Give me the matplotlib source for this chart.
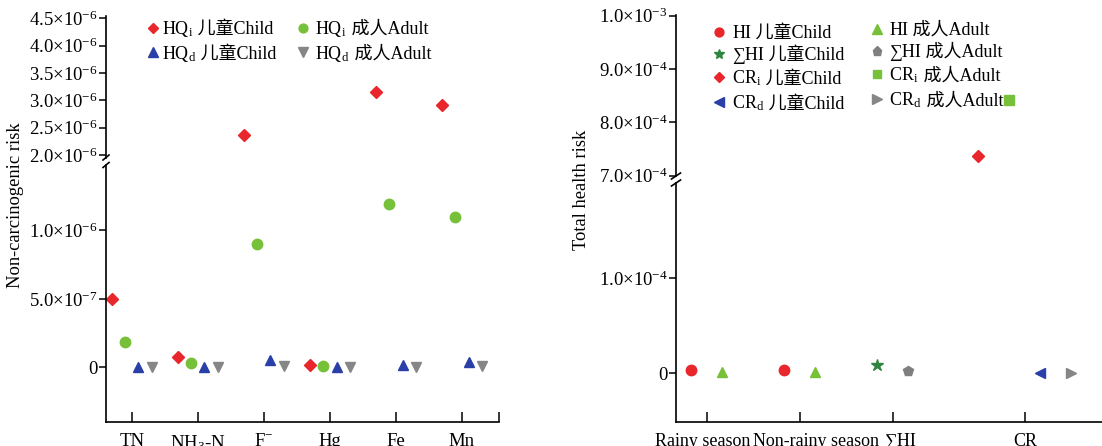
import matplotlib
matplotlib.use('Agg')
import matplotlib.pyplot as plt
from matplotlib.transforms import IdentityTransform
import numpy as np

plt.rcParams.update({'font.family': ['Liberation Serif', 'Noto Sans CJK SC'],
                     'mathtext.fontset': 'custom', 'mathtext.rm': 'Liberation Serif',
                     'mathtext.it': 'Liberation Serif:italic', 'font.size': 13.5,
                     'axes.linewidth': 1.2})

# left panel: non-carcinogenic risk per pollutant
pollutants = ['TN', 'NH$_3$-N', 'F$^{-}$', 'Hg', 'Fe', 'Mn']
hqi_child = [5.0e-7, 7.5e-8, 2.37e-6, 2.0e-8, 3.16e-6, 2.91e-6]
hqi_adult = [1.87e-7, 2.9e-8, 9.0e-7, 1.0e-8, 1.19e-6, 1.10e-6]
hqd_child = [3e-9, 3e-9, 5.3e-8, 3e-9, 2.0e-8, 3.6e-8]
hqd_adult = [1e-9, 1e-9, 1.0e-8, 1e-9, 1e-9, 7e-9]

# right panel: total health risk
groups = ['Rainy season', 'Non-rainy season', '∑HI', 'CR']
hi_child = [3.8e-6, 3.8e-6]
hi_adult = [1.7e-6, 1.7e-6]
shi_child = [9.0e-6]
shi_adult = [2.7e-6]
cri_child = [7.375e-4]
cri_adult = [8.41e-4]
crd_child = [0.0]
crd_adult = [0.0]

RED = '#e8262b'; LIME = '#77c13a'; BLUE = '#2b3fa8'; GRAY = '#868686'
DGREEN = '#2e8540'; PGRAY = '#7f7f7f'
LFS = 13  # legend font size

W, H = 1102, 446
fig = plt.figure(figsize=(W / 100, H / 100), dpi=100)


def box(x0, y0, x1, y1):
    return [x0 / W, 1 - y1 / H, (x1 - x0) / W, (y1 - y0) / H]


def sci(v):
    if v == 0:
        return '0'
    e = int(np.floor(np.log10(abs(v)) + 1e-9))
    return f'{v / 10**e:.1f}×10$^{{{e}}}$'


def style(ax, upper):
    ax.spines['top'].set_visible(False)
    ax.spines['right'].set_visible(False)
    ax.tick_params(axis='y', direction='out', length=5, width=1.1, pad=1)
    if upper:
        ax.spines['bottom'].set_visible(False)
        ax.tick_params(axis='x', bottom=False, labelbottom=False)
    else:
        ax.tick_params(axis='x', direction='in', length=7, width=1.1, pad=8)
    ax.patch.set_alpha(0)


def slash(ax, y, wpx, hpx):
    b = ax.get_position()
    dx = wpx / (b.width * W) / 2
    dy = hpx / (b.height * H) / 2
    ax.plot([-dx, dx], [y - dy, y + dy], transform=ax.transAxes, color='k',
            lw=1.2, clip_on=False)


suffixes = []  # (legend, suffix text) filled below


def column(handles, mains, suffix, x, y, pad, spacing):
    leg = fig.legend(handles, mains, loc='upper left', bbox_to_anchor=(x / W, 1 - y / H),
                     frameon=False, fontsize=LFS, handlelength=0.5, handletextpad=pad,
                     labelspacing=spacing, markerscale=0.85, borderaxespad=0, borderpad=0)
    suffixes.append((leg, suffix))


# ---- left panel
axu = fig.add_axes(box(106, 16, 499, 157.5))
axl = fig.add_axes(box(106, 165, 499, 422))
x = np.arange(len(pollutants))
for ax in (axu, axl):
    h1, = ax.plot(x - 0.3, hqi_child, 'D', color=RED, ms=5.8, ls='none')
    h2, = ax.plot(x - 0.1, hqi_adult, 'o', color=LIME, ms=7.5, ls='none')
    h3, = ax.plot(x + 0.1, hqd_child, '^', color=BLUE, ms=7.8, ls='none')
    h4, = ax.plot(x + 0.3, hqd_adult, 'v', color=GRAY, ms=7.8, ls='none')
    ax.set_xlim(-0.39, 5.56)
axu.set_ylim(1.954e-6, 4.54e-6)
axl.set_ylim(-3.99e-7, 1.477e-6)
ut = np.arange(2.0, 4.51, 0.5) * 1e-6
axu.set_yticks(ut, [sci(v) for v in ut])
lt = [0, 5e-7, 1e-6]
axl.set_yticks(lt, [sci(v) for v in lt])
axl.set_xticks(list(x) + [5.56], pollutants + [''])
style(axu, True); style(axl, False)
slash(axu, 0, 6, 5); slash(axl, 1, 6, 5)
column([h1, h3], ['HQ$_\\mathrm{i}$', 'HQ$_\\mathrm{d}$'], ' 儿童Child', 148, 19, 0.25, 0.25)
column([h2, h4], ['HQ$_\\mathrm{i}$', 'HQ$_\\mathrm{d}$'], ' 成人Adult', 298, 19, 0.45, 0.25)
fig.text(16 / W, 1 - 205 / H, 'Non-carcinogenic risk', rotation=90,
         ha='center', va='center', fontsize=13.3)

# ---- right panel
bu = fig.add_axes(box(676, 15, 1102, 176))
bl = fig.add_axes(box(676, 183, 1102, 422))
gpos = np.array([1, 4, 7, 11.25])
for ax in (bu, bl):
    k1, = ax.plot(gpos[:2] - 0.5, hi_child, 'o', color=RED, ms=7.5, ls='none')
    k2, = ax.plot(gpos[:2] + 0.5, hi_adult, '^', color=LIME, ms=7.8, ls='none')
    k3, = ax.plot(gpos[2:3] - 0.5, shi_child, '*', color=DGREEN, ms=9, ls='none')
    k4, = ax.plot(gpos[2:3] + 0.5, shi_adult, 'p', color=PGRAY, ms=7.8, ls='none')
    k5, = ax.plot(gpos[3:] - 1.5, cri_child, 'D', color=RED, ms=5.8, ls='none')
    k6, = ax.plot(gpos[3:] - 0.5, cri_adult, 's', color=LIME, ms=6.8, ls='none')
    k7, = ax.plot(gpos[3:] + 0.5, crd_child, '<', color=BLUE, ms=7.8, ls='none')
    k8, = ax.plot(gpos[3:] + 1.5, crd_adult, '>', color=GRAY, ms=7.8, ls='none')
    ax.set_xlim(0, 13.75)
bu.set_ylim(6.994e-4, 1.0013e-3)
bl.set_ylim(-0.513e-4, 2.003e-4)
rt = [7e-4, 8e-4, 9e-4, 1e-3]
bu.set_yticks(rt, [sci(v) for v in rt])
bl.set_yticks([0, 1e-4], [sci(0), sci(1e-4)])
bl.set_xticks(gpos, [''] * len(gpos))
bl.set_xticks([0.865, 4.51, 7.22, 11.26], groups, minor=True)
style(bu, True); style(bl, False)
bl.tick_params(axis='x', which='minor', length=0, pad=8, labelsize=13)
slash(bu, 0, 9, 6); slash(bl, 1, 9, 6)
column([k1, k3, k5, k7], ['HI', '∑HI', 'CR$_\\mathrm{i}$', 'CR$_\\mathrm{d}$'],
       ' 儿童Child', 714, 25, 0.5, 0.27)
column([k2, k4, k6, k8], ['HI', '∑HI', 'CR$_\\mathrm{i}$', 'CR$_\\mathrm{d}$'],
       ' 成人Adult', 872, 22, 0.45, 0.27)
fig.text(582 / W, 1 - 190 / H, 'Total health risk', rotation=90,
         ha='center', va='center', fontsize=13.3)

# append the Chinese/English part after each legend label (mathtext has no CJK fallback)
fig.canvas.draw()
for leg, suffix in suffixes:
    for t in leg.get_texts():
        bb = t.get_window_extent()
        _, yb = t.get_transform().transform(t.get_position())
        fig.text(bb.x1, yb, suffix, transform=IdentityTransform(), ha='left',
                 va='baseline', fontsize=LFS)

fig.savefig('out.png', dpi=100)
